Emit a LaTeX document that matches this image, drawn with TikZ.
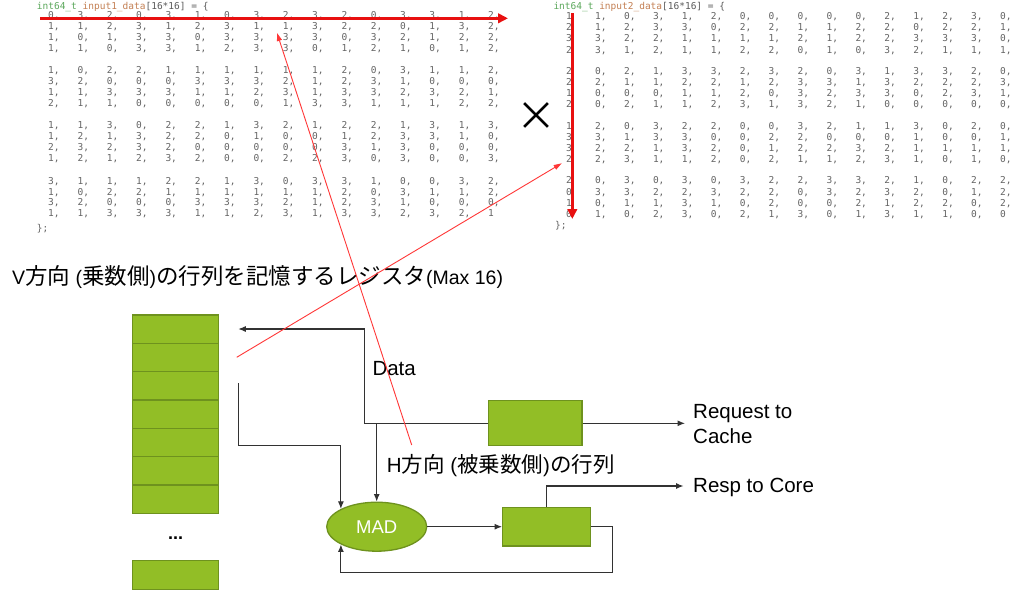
\documentclass[tikz,border=0pt]{standalone}
\usepackage{fontspec}
\setmainfont{Liberation Sans}
\newfontfamily\jpfont{Noto Sans CJK JP}
\newfontfamily\codefont{DejaVu Sans Mono}
\usetikzlibrary{arrows.meta,shapes.geometric}
\definecolor{regfill}{RGB}{146,190,38}
\definecolor{regline}{RGB}{110,146,30}
\definecolor{conncol}{RGB}{50,50,50}
\definecolor{bigred}{RGB}{232,16,16}
\definecolor{thinred}{RGB}{255,55,55}
\definecolor{codegreen}{RGB}{92,168,92}
\definecolor{codebrown}{RGB}{196,128,84}
\definecolor{codegray}{RGB}{90,90,90}
\definecolor{digitgray}{RGB}{100,100,100}
\newcommand\J[2]{{\jpfont\fontsize{#1}{#1}\selectfont #2}}
\tikzset{
  reg/.style={draw=regline, fill=regfill, line width=1.3pt, minimum width=85.6pt, minimum height=28.3pt, inner sep=0},
  gbox/.style={draw=regline, fill=regfill, line width=1.3pt, inner sep=0},
  conn/.style={draw=conncol, line width=1.1pt, -{Latex[length=7.5pt,width=6pt]}},
  bigarrow/.style={draw=bigred, line width=3.2pt, -{Triangle[length=10pt,width=9.5pt]}},
  thinarrow/.style={draw=thinred, line width=0.9pt, -{Triangle[length=8pt,width=5pt]}},
  digit/.style={font=\codefont\fontsize{9.5}{11}\selectfont, text=digitgray, inner sep=0, anchor=base west},
  lbl/.style={inner sep=0, text=black, font=\fontsize{20.5}{25.7}\selectfont},
}
\begin{document}
\begin{tikzpicture}[x=1pt,y=-1pt]
\useasboundingbox (0,0) rectangle (1024,590);
\fill[white] (0,0) rectangle (1024,590);

% ---------- matrix 1 ----------
\node[digit] (hdrA) at (36.7,9) {\textcolor{codegreen}{int64\_t} \textcolor{codebrown}{input1\_data}\textcolor{codegray}{[16*16] = \{}};
\foreach \row [count=\i from 0] in {
{0,3,2,0,3,1,0,3,2,3,2,0,3,3,1,2},
{1,1,2,3,1,2,3,1,1,3,2,2,0,1,3,2},
{1,0,1,3,3,0,3,3,3,3,0,3,2,1,2,2},
{1,1,0,3,3,1,2,3,3,0,1,2,1,0,1,2},
{1,0,2,2,1,1,1,1,1,1,2,0,3,1,1,2},
{3,2,0,0,0,3,3,3,2,1,2,3,1,0,0,0},
{1,1,3,3,3,1,1,2,3,1,3,3,2,3,2,1},
{2,1,1,0,0,0,0,0,1,3,3,1,1,1,2,2},
{1,1,3,0,2,2,1,3,2,1,2,2,1,3,1,3},
{1,2,1,3,2,2,0,1,0,0,1,2,3,3,1,0},
{2,3,2,3,2,0,0,0,0,0,3,1,3,0,0,0},
{1,2,1,2,3,2,0,0,2,2,3,0,3,0,0,3},
{3,1,1,1,2,2,1,3,0,3,3,1,0,0,3,2},
{1,0,2,2,1,1,1,1,1,1,2,0,3,1,1,2},
{3,2,0,0,0,3,3,3,2,1,2,3,1,0,0,0},
{1,1,3,3,3,1,1,2,3,1,3,3,2,3,2,1}}{
  \pgfmathtruncatemacro\g{\i/4}
  \pgfmathsetmacro\yy{15+55.2*\g+10.9*(\i-4*\g)+3.5}
  \foreach \v [count=\j from 0] in \row {
    \node[digit] (a-\i-\j) at ({48+29.33*\j},\yy) {\v\ifnum\i\j=1515 \else,\fi};
  }
}
\node[digit] (endA) at (36.7,231) {\};};

% ---------- matrix 2 ----------
\node[digit] (hdrB) at (553.3,9) {\textcolor{codegreen}{int64\_t} \textcolor{codebrown}{input2\_data}\textcolor{codegray}{[16*16] = \{}};
\foreach \row [count=\i from 0] in {
{1,1,0,3,1,2,0,0,0,0,0,2,1,2,3,0},
{2,1,2,3,3,0,2,2,1,1,2,2,0,2,2,1},
{3,3,2,2,1,1,1,1,2,1,2,2,3,3,3,0},
{2,3,1,2,1,1,2,2,0,1,0,3,2,1,1,1},
{2,0,2,1,3,3,2,3,2,0,3,1,3,3,2,0},
{2,2,1,1,2,2,1,2,3,3,1,3,2,2,2,3},
{1,0,0,0,1,1,2,0,3,2,3,3,0,2,3,1},
{2,0,2,1,1,2,3,1,3,2,1,0,0,0,0,0},
{1,2,0,3,2,2,0,0,3,2,1,1,3,0,2,0},
{3,3,1,3,3,0,0,2,2,0,0,0,1,0,0,1},
{3,2,2,1,3,2,0,1,2,2,3,2,1,1,1,1},
{2,2,3,1,1,2,0,2,1,1,2,3,1,0,1,0},
{2,0,3,0,3,0,3,2,2,3,3,2,1,0,2,2},
{0,3,3,2,2,3,2,2,0,3,2,3,2,0,1,2},
{1,0,1,1,3,1,0,2,0,0,2,1,2,2,0,2},
{0,1,0,2,3,0,2,1,3,0,1,3,1,1,0,0}}{
  \pgfmathtruncatemacro\g{\i/4}
  \pgfmathsetmacro\yy{16+54.8*\g+11.2*(\i-4*\g)+3.5}
  \foreach \v [count=\j from 0] in \row {
    \node[digit] (b-\i-\j) at ({566+28.93*\j},\yy) {\v\ifnum\j=0 \else\ifnum\i\j=1515 \else,\fi\fi};
  }
}
\node[digit] (endB) at (555,228.5) {\};};

% multiplication sign
\node[inner sep=0, font=\jpfont\fontsize{40}{40}\selectfont] (times) at (536,116.7) {×};

% thick red arrows
\coordinate (hS) at (40,18.3);
\coordinate (hE) at (508,18.3);
\draw[bigarrow] (hS) -- (hE);
\coordinate (vS) at (572.3,13);
\draw[bigarrow] (vS) -- (572.3,219) coordinate (vE);

% ---------- title ----------
\node[lbl, anchor=base west, font=\fontsize{19.5}{20}\selectfont] (title) at (12,284.3)
  {V\J{22.5}{方向} (\J{22.5}{乗数側})\J{22.5}{の行列を記憶するレジスタ}(Max 16)};

% ---------- register stack ----------
\foreach \k in {0,...,6} {
  \node[reg] (reg\k) at (175.5,{329.17+28.33*\k}) {};
}
\node[font=\bfseries\fontsize{18}{18}\selectfont, inner sep=0] (dots) at (175.5,538) {...};
\node[reg, minimum height=28.5pt] (regN) at (175.5,575) {};

% ---------- boxes ----------
\node[gbox, minimum width=93.7pt, minimum height=45pt] (req) at (535.2,423.3) {};
\node[gbox, minimum width=88pt, minimum height=38.7pt] (out) at (546.7,526.7) {};
\node[gbox, ellipse, minimum width=100pt, minimum height=49pt, text=white, font=\fontsize{18.5}{18.5}\selectfont] (mad) at (376.7,526.7) {MAD};

% ---------- labels ----------
\node[lbl, anchor=base west] (data) at (372.3,375) {Data};
\node[lbl, anchor=base west] (hlab) at (386.7,472.3) {H\J{21.5}{方向} (\J{21.5}{被乗数側})\J{21.5}{の行列}};
\node[lbl, anchor=west, align=left] (reqtxt) at (693,424) {Request to\\Cache};
\node[lbl, anchor=base west] (resp) at (693,492.7) {Resp to Core};

% ---------- connectors ----------
\coordinate (regIn) at (238.3,329);
\coordinate (dataTurn) at (364.3,329);
\draw[conn] (req.west) -| (dataTurn) -- (regIn);
\draw[conn] (mad.north |- req.west) -- (mad.north);
\coordinate (regOut) at (238.3,383.3);
\coordinate (regTurn) at (238.3,445.7);
\draw[conn] (regOut) -- (regTurn) -| (mad.north west);
\draw[conn] (mad.east) -- (out.west);
\coordinate (reqTip) at (685,423.3);
\draw[conn] (req.east) -- (reqTip);
\coordinate (respTip) at (683.5,486);
\draw[conn] (out.north) |- (respTip);
\coordinate (fbTurn) at (612.7,572.7);
\draw[conn] (out.east) -| (fbTurn) -| (mad.south west);

% ---------- thin red arrows ----------
\coordinate (hSrc) at (411.7,445);
\coordinate (hTgt) at (277,33);
\draw[thinarrow] (hSrc) -- (hTgt);
\coordinate (vSrc) at (236.7,357.3);
\coordinate (vTgt) at (561.7,163.3);
\draw[thinarrow] (vSrc) -- (vTgt);
\end{tikzpicture}
\end{document}
